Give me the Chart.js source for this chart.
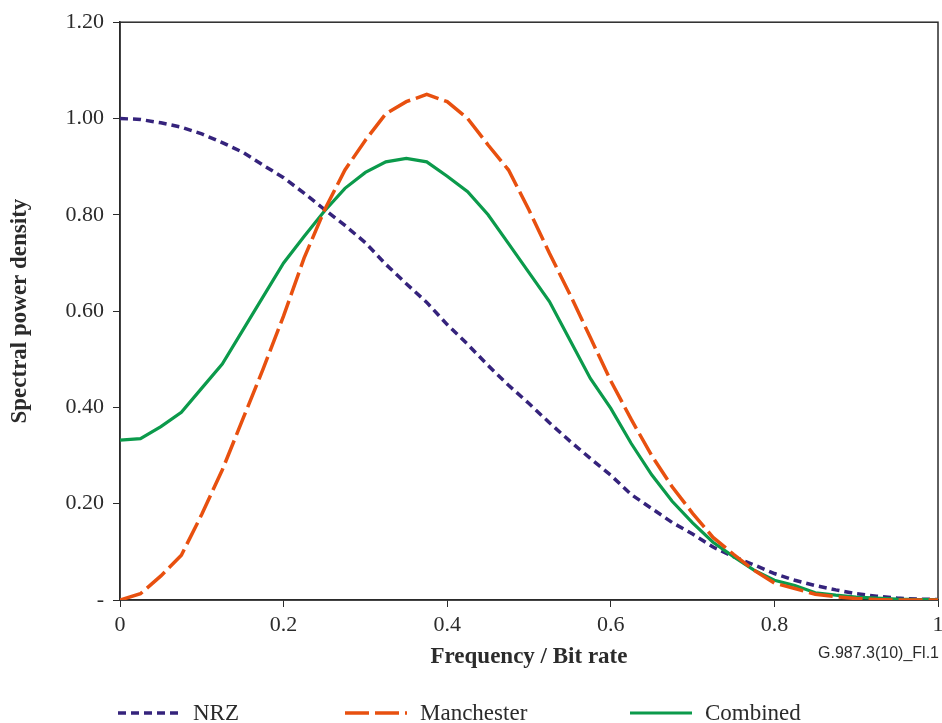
<!DOCTYPE html>
<html lang="en">
<head>
<meta charset="UTF-8">
<title>Spectral power density</title>
<script src="https://cdn.jsdelivr.net/npm/chart.js"></script>
<style>
    body {
        margin: 0;
        background: #fff;
    }
    .grafico {
        position: relative;
        width: 942px;
        height: 723px;
    }
</style>
</head>
<body>
<div class="grafico">
    <canvas id="psd"></canvas>
</div>
<script>
    // frequency / bit rate (x) sampled every 0.025
    const freq = [0, 0.025, 0.05, 0.075, 0.1, 0.125, 0.15, 0.175, 0.2, 0.225,
        0.25, 0.275, 0.3, 0.325, 0.35, 0.375, 0.4, 0.425, 0.45, 0.475,
        0.5, 0.525, 0.55, 0.575, 0.6, 0.625, 0.65, 0.675, 0.7, 0.725,
        0.75, 0.775, 0.8, 0.825, 0.85, 0.875, 0.9, 0.925, 0.95, 0.975, 1];

    const nrz = [1.000, 0.998, 0.991, 0.982, 0.968, 0.950, 0.930, 0.903, 0.877, 0.845,
        0.811, 0.778, 0.742, 0.697, 0.657, 0.618, 0.572, 0.531, 0.487, 0.446,
        0.408, 0.368, 0.330, 0.294, 0.259, 0.219, 0.190, 0.161, 0.137, 0.110,
        0.090, 0.073, 0.055, 0.041, 0.030, 0.021, 0.013, 0.008, 0.004, 0.002, 0.001];

    const manchester = [0, 0.013, 0.050, 0.093, 0.178, 0.270, 0.375, 0.480, 0.590, 0.710,
        0.810, 0.893, 0.955, 1.010, 1.035, 1.050, 1.035, 1.000, 0.945, 0.893,
        0.810, 0.720, 0.635, 0.545, 0.455, 0.375, 0.300, 0.235, 0.180, 0.130,
        0.095, 0.062, 0.035, 0.024, 0.012, 0.007, 0.003, 0.001, 0, 0, 0];

    const combined = [0.332, 0.335, 0.360, 0.390, 0.440, 0.490, 0.560, 0.630, 0.700, 0.755,
        0.808, 0.855, 0.888, 0.910, 0.917, 0.910, 0.880, 0.848, 0.800, 0.740,
        0.680, 0.620, 0.540, 0.460, 0.398, 0.325, 0.260, 0.205, 0.160, 0.120,
        0.090, 0.062, 0.041, 0.030, 0.015, 0.010, 0.006, 0.004, 0.002, 0.001, 0.001];

    const seriesNames = ['NRZ', 'Manchester', 'Combined'];
    const figNote = 'G.987.3(10)_Fl.1';

    const tinta = '#2b2b2b';
    const serif = "'Liberation Serif', 'Times New Roman', serif";

    function puntos(valores) {
        return freq.map((f, i) => ({ x: f, y: valores[i] }));
    }

    // marco, leyenda y nota de figura
    const extras = {
        id: 'extras',
        beforeDatasetsDraw(chart) {
            const a = chart.chartArea;
            const c = chart.ctx;
            c.save();
            c.strokeStyle = tinta;
            c.lineWidth = 1.5;
            c.strokeRect(a.left, a.top, a.right - a.left, a.bottom - a.top);
            c.restore();
        },
        afterDraw(chart) {
            const c = chart.ctx;
            const sets = chart.data.datasets;
            const posX = [118, 345, 630];
            const y = 713;
            c.save();
            seriesNames.forEach((name, k) => {
                const ds = sets.find(d => d.label === name);
                c.beginPath();
                c.strokeStyle = ds.borderColor;
                c.lineWidth = ds.borderWidth;
                c.setLineDash(ds.borderDash || []);
                c.moveTo(posX[k], y);
                c.lineTo(posX[k] + 62, y);
                c.stroke();
                c.setLineDash([]);
                c.fillStyle = tinta;
                c.font = '23px ' + serif;
                c.textBaseline = 'middle';
                c.textAlign = 'left';
                c.fillText(name, posX[k] + 75, y + 1);
            });
            c.font = "16px 'Liberation Sans', Arial, sans-serif";
            c.textAlign = 'right';
            c.textBaseline = 'middle';
            c.fillText(figNote, 939, 654);
            c.restore();
        }
    };

    const ctx = document.getElementById('psd').getContext('2d');
    new Chart(ctx, {
        type: 'line',
        data: {
            datasets: [
                {
                    label: 'Manchester',
                    data: puntos(manchester),
                    borderColor: '#e8500f',
                    borderWidth: 3.5,
                    borderDash: [24, 6],
                    pointRadius: 0,
                    tension: 0,
                    fill: false
                },
                {
                    label: 'Combined',
                    data: puntos(combined),
                    borderColor: '#0b9a4b',
                    borderWidth: 3.2,
                    pointRadius: 0,
                    tension: 0,
                    fill: false
                },
                {
                    label: 'NRZ',
                    data: puntos(nrz),
                    borderColor: '#35237c',
                    borderWidth: 3.5,
                    borderDash: [8, 5],
                    pointRadius: 0,
                    tension: 0,
                    fill: false
                }
            ]
        },
        options: {
            responsive: true,
            maintainAspectRatio: false,
            animation: false,
            layout: { padding: { top: 21, right: 4, left: 0, bottom: 52 } },
            plugins: {
                legend: { display: false },
                tooltip: { enabled: false }
            },
            scales: {
                x: {
                    type: 'linear',
                    min: 0,
                    max: 1,
                    afterFit(scale) {
                        scale.height = 71;
                        scale.paddingRight = 0;
                        scale.paddingLeft = 0;
                    },
                    ticks: {
                        stepSize: 0.2,
                        color: tinta,
                        font: { family: serif, size: 22 },
                        padding: 5,
                        maxRotation: 0,
                        callback: v => {
                            const r = Math.round(v * 10) / 10;
                            return (r === 0 || r === 1) ? String(r) : r.toFixed(1);
                        }
                    },
                    grid: {
                        drawOnChartArea: false,
                        tickLength: 7,
                        color: tinta
                    },
                    border: { color: tinta, width: 1.5 },
                    title: {
                        display: true,
                        text: 'Frequency / Bit rate',
                        color: tinta,
                        font: { family: serif, size: 23, weight: 'bold' },
                        padding: { top: 0, bottom: 0 }
                    }
                },
                y: {
                    min: 0,
                    max: 1.2,
                    afterFit(scale) { scale.width = 120; },
                    ticks: {
                        stepSize: 0.2,
                        color: tinta,
                        font: { family: serif, size: 22 },
                        padding: 9,
                        callback: v => {
                            const r = Math.round(v * 100) / 100;
                            return r === 0 ? '-' : r.toFixed(2);
                        }
                    },
                    grid: {
                        drawOnChartArea: false,
                        tickLength: 7,
                        color: tinta
                    },
                    border: { color: tinta, width: 1.5 },
                    title: {
                        display: true,
                        text: 'Spectral power density',
                        color: tinta,
                        font: { family: serif, size: 23, weight: 'bold' },
                        padding: { top: 6, bottom: 0 }
                    }
                }
            }
        },
        plugins: [extras]
    });
</script>
</body>
</html>
